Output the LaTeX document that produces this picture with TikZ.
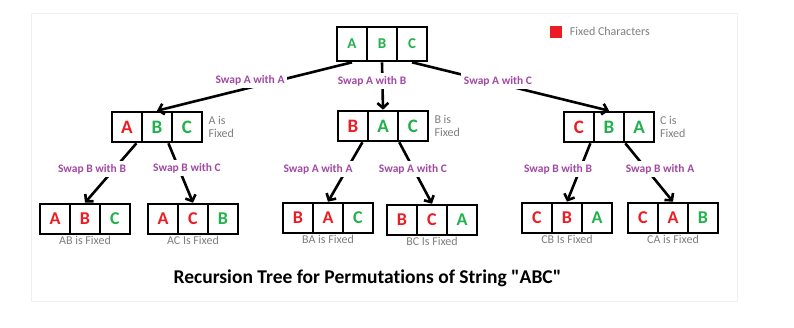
\documentclass[tikz,border=0pt]{standalone}
\usepackage{fontspec}
\setmainfont{Carlito}[Ligatures={TeXOff,CommonOff}]
\usetikzlibrary{calc, arrows.meta, positioning}

\definecolor{fixred}{HTML}{ED1C24}
\definecolor{freegreen}{HTML}{22B14C}
\definecolor{swappurple}{HTML}{A349A4}
\definecolor{notegray}{HTML}{7F7F7F}

\tikzset{
  cell/.style={draw, line width=2.6pt, minimum width=30pt, minimum height=30pt,
    inner sep=0pt, font=\bfseries\fontsize{18}{18}\selectfont},
  link/.style={line width=2.6pt, -{Straight Barb[length=5pt,width=11pt]}},
  swaplabel/.style={fill=white, inner sep=3pt, text=swappurple, font=\bfseries\fontsize{11.5}{13}\selectfont},
  note/.style={text=notegray, inner sep=1pt, align=left, font=\fontsize{12}{13}\selectfont},
}

% one permutation: three cells side by side
\newcommand{\permbox}[4][]{%
  \foreach \ch/\col [count=\i] in {#4} {
    \node[cell, #1, text=\col] (#2-\i) at ($(#3)+(\i*30-60,0)$) {\ch};
  }
}

\begin{document}
\begin{tikzpicture}[x=1pt, y=-1pt]
    \useasboundingbox (0,0) rectangle (794,327);
    \fill[white] (0,0) rectangle (794,327);
    \draw[black!6, line width=1pt] (31,13) rectangle (737,301);

    % Gốc
    \permbox[minimum height=34pt, font=\bfseries\fontsize{15}{15}\selectfont]{abc}{382,44}{A/freegreen,B/freegreen,C/freegreen}

    % Mức 1
    \permbox[font=\bfseries\fontsize{19}{19}\selectfont]{l}{157,127}{A/fixred,B/freegreen,C/freegreen}
    \permbox[font=\bfseries\fontsize{19}{19}\selectfont]{m}{383,126}{B/fixred,A/freegreen,C/freegreen}
    \permbox[font=\bfseries\fontsize{19}{19}\selectfont]{r}{609,127}{C/fixred,B/freegreen,A/freegreen}

    % Mức 2
    \permbox{ab}{85,219}{A/fixred,B/fixred,C/freegreen}
    \permbox{ac}{193,219}{A/fixred,C/fixred,B/freegreen}
    \permbox{ba}{328,218}{B/fixred,A/fixred,C/freegreen}
    \permbox{bc}{432,220}{B/fixred,C/fixred,A/freegreen}
    \permbox{cb}{567,218}{C/fixred,B/fixred,A/freegreen}
    \permbox{ca}{673,218}{C/fixred,A/fixred,B/freegreen}

    % Các nhánh
    \draw[link] (abc-1.south) -- (l-2.north);
    \draw[link] (abc-2.south) -- (m-2.north);
    \draw[link] (abc-3.south) -- (r-2.north);
    \draw[link] (l-1.-60) -- (ab-2.north);
    \draw[link] (l-2.-55) -- (ac-2.north);
    \draw[link] (m-1.-60) -- (ba-2.north);
    \draw[link] (m-2.south east) -- (bc-2.north);
    \draw[link] (r-1.-55) -- (cb-2.north);
    \draw[link] (r-2.-45) -- (ca-2.north);

    % Nhãn hoán đổi
    \node[swaplabel] (sAA) at (250,80) {Swap A with A};
    \node[swaplabel] (sAB) at (372,81) {Swap A with B};
    \node[swaplabel] (sAC) at (498,81) {Swap A with C};
    \node[swaplabel] (sBB) at (92,169) {Swap B with B};
    \node[swaplabel] (sBC) at (187,168) {Swap B with C};
    \node[swaplabel] (sAA2) at (318,169) {Swap A with A};
    \node[swaplabel] (sAC2) at (413,169) {Swap A with C};
    \node[swaplabel] (sBB2) at (558,169) {Swap B with B};
    \node[swaplabel] (sBA) at (660,169) {Swap B with A};

    % Ghi chú
    \node[note, anchor=west] (fa) at ($(l-3.east)+(4,0)$) {A is\\Fixed};
    \node[note, anchor=west] (fb) at ($(m-3.east)+(4,0)$) {B is\\Fixed};
    \node[note, anchor=west] (fc) at ($(r-3.east)+(3.5,0)$) {C is\\Fixed};
    \node[note, below=0pt of ab-2] (fab) {AB is Fixed};
    \node[note, below=0pt of ac-2] (fac) {AC Is Fixed};
    \node[note, below=0pt of ba-2] (fba) {BA is Fixed};
    \node[note, below=0pt of bc-2] (fbc) {BC Is Fixed};
    \node[note, below=0pt of cb-2] (fcb) {CB Is Fixed};
    \node[note, below=0pt of ca-2] (fca) {CA is Fixed};

    % Chú thích
    \node[fill=fixred, minimum size=12pt, inner sep=0pt] (key) at (555.5,31.5) {};
    \node[note, right=7pt of key] (keytext) {Fixed Characters};

    \node[font=\bfseries\fontsize{19.5}{19.5}\selectfont] (title) at (367.5,278)
        {Recursion Tree for Permutations of String "ABC"};
\end{tikzpicture}
\end{document}
